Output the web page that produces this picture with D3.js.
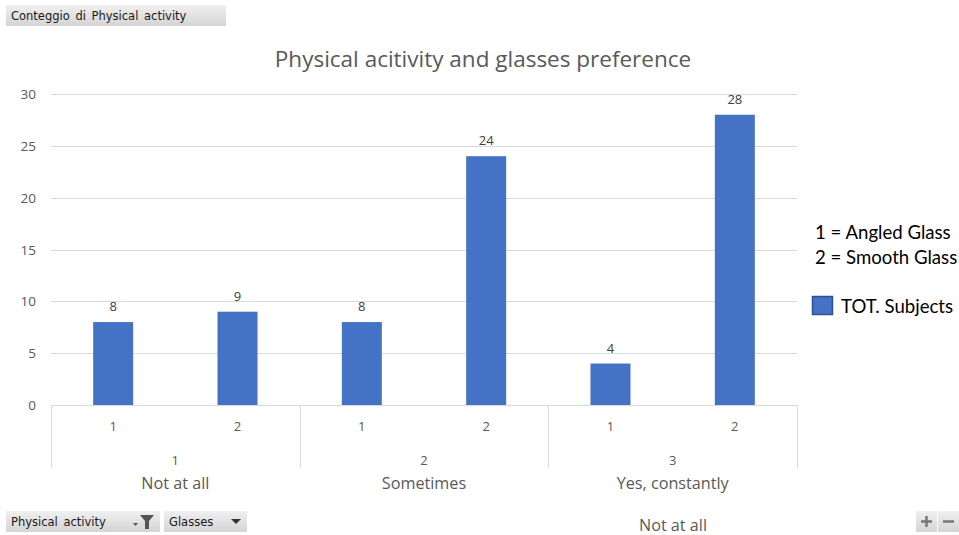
<!DOCTYPE html>
<html><head><meta charset="utf-8">
<script src="https://cdn.jsdelivr.net/npm/d3@7"></script>
<style>body{margin:0;background:#fff;overflow:hidden}svg{display:block}</style>
</head><body>
<svg id="c" width="959" height="535"></svg>
<script>
const groups = ["1","2","3"];
const groupNames = ["Not at all","Sometimes","Yes, constantly"];
const subs = ["1","2"];
const values = [[8,9],[8,24],[4,28]];
const yTicks = [0,5,10,15,20,25,30];
const title = "Physical acitivity and glasses preference";
const legendNotes = ["1 = Angled Glass","2 = Smooth Glass"];
const seriesName = "TOT. Subjects";

(function(){
const svg = d3.select("#c");
const pLeft = 51, pRight = 797, pTop = 94, pBottom = 405;
const x0 = d3.scaleBand().domain(groups).range([pLeft,pRight]).padding(0);
const x1 = d3.scaleBand().domain(subs).range([0,x0.bandwidth()]).padding(0);
const y = d3.scaleLinear().domain([0,30]).range([pBottom,pTop]);
const barW = 40;
const txt = "#595959";
const font = "'Open Sans', sans-serif";

// title
svg.append("text").attr("x",483).attr("y",67).attr("text-anchor","middle")
  .attr("font-family",font).attr("font-size",22.5).attr("fill",txt).text(title);

// grid
svg.append("g").selectAll("line").data(yTicks.filter(d=>d>0)).join("line")
  .attr("x1",pLeft).attr("x2",pRight).attr("y1",d=>Math.round(y(d))+0.5).attr("y2",d=>Math.round(y(d))+0.5)
  .attr("stroke","#d9d9d9").attr("stroke-width",1);
svg.append("g").selectAll("text").data(yTicks).join("text")
  .attr("x",36).attr("y",d=>y(d)+5).attr("text-anchor","end")
  .attr("font-family",font).attr("font-size",13.5).attr("fill",txt).text(d=>d);

// bars
const flat = [];
groups.forEach((g,i)=>subs.forEach((s,j)=>flat.push({g,s,v:values[i][j]})));
const bx = d=>x0(d.g)+x1(d.s)+x1.bandwidth()/2;
svg.append("g").selectAll("rect").data(flat).join("rect")
  .attr("x",d=>bx(d)-barW/2).attr("width",barW)
  .attr("y",d=>y(d.v)).attr("height",d=>pBottom-y(d.v)).attr("fill","#4472c4");
svg.append("g").selectAll("text").data(flat).join("text")
  .attr("x",bx).attr("y",d=>y(d.v)-11).attr("text-anchor","middle")
  .attr("font-family",font).attr("font-size",13).attr("fill","#404040").text(d=>d.v);

// axis
svg.append("line").attr("x1",pLeft).attr("x2",pRight).attr("y1",pBottom+0.5).attr("y2",pBottom+0.5)
  .attr("stroke","#d9d9d9");
const seps = groups.map(g=>x0(g)).concat([pRight]);
svg.append("g").selectAll("line").data(seps).join("line")
  .attr("x1",d=>Math.round(d)+0.5).attr("x2",d=>Math.round(d)+0.5).attr("y1",pBottom).attr("y2",468)
  .attr("stroke","#d9d9d9");
svg.append("g").selectAll("text").data(flat).join("text")
  .attr("x",bx).attr("y",431).attr("text-anchor","middle")
  .attr("font-family",font).attr("font-size",13).attr("fill",txt).text(d=>d.s);
svg.append("g").selectAll("text").data(groups).join("text")
  .attr("x",g=>x0(g)+x0.bandwidth()/2).attr("y",465).attr("text-anchor","middle")
  .attr("font-family",font).attr("font-size",13).attr("fill",txt).text(g=>g);
svg.append("g").selectAll("text").data(groups).join("text")
  .attr("x",g=>x0(g)+x0.bandwidth()/2).attr("y",489).attr("text-anchor","middle")
  .attr("font-family",font).attr("font-size",16.2).attr("fill",txt).text((g,i)=>groupNames[i]);

// legend
const lf = "Lato, 'Open Sans', sans-serif";
svg.append("g").selectAll("text").data(legendNotes).join("text")
  .attr("x",815).attr("y",(d,i)=>239+i*25).attr("font-family",lf).attr("font-size",18.6)
  .attr("fill","#000").text(d=>d);
svg.append("rect").attr("x",812.5).attr("y",296.5).attr("width",20).attr("height",18)
  .attr("fill","#4472c4").attr("stroke","#2f528f").attr("stroke-width",1.5);
svg.append("text").attr("x",841).attr("y",313).attr("font-family",lf).attr("font-size",18.6)
  .attr("fill","#000").text(seriesName);

// pivot buttons
const defs = svg.append("defs");
const gr = defs.append("linearGradient").attr("id","bg").attr("x1",0).attr("x2",0).attr("y1",0).attr("y2",1);
gr.append("stop").attr("offset",0).attr("stop-color","#f0f0f0");
gr.append("stop").attr("offset",1).attr("stop-color","#d4d4d4");
const bf = "'DejaVu Sans', sans-serif";
function btn(x,yy,w,h,label){
  svg.append("rect").attr("x",x).attr("y",yy).attr("width",w).attr("height",h).attr("fill","url(#bg)");
  if(label) svg.append("text").attr("x",x+5).attr("y",yy+15).attr("font-family",bf)
    .attr("font-size",11.5).attr("word-spacing",2).attr("fill","#1a1a1a").text(label);
}
btn(6,5,220,21,"Conteggio di Physical activity");
btn(6,511,154,21,"Physical activity");
btn(164,511,83,21,"Glasses");
svg.append("path").attr("d","M140,515 h14 l-5,6 v8 h-4 v-8 z").attr("fill","#555");
svg.append("path").attr("d","M133,523 h5 l-2.5,3 z").attr("fill","#555");
svg.append("path").attr("d","M231,519 h10 l-5,5 z").attr("fill","#333");
btn(916,511,21,21,null); btn(938,511,21,21,null);
svg.append("path").attr("d","M921,521.5 h11 M926.5,516 v11 M943,521.5 h11").attr("stroke","#777").attr("stroke-width",2.5);
svg.append("text").attr("x",673).attr("y",531).attr("text-anchor","middle").attr("font-family",font)
  .attr("font-size",16.2).attr("fill",txt).text("Not at all");
})();
</script>
</body></html>
